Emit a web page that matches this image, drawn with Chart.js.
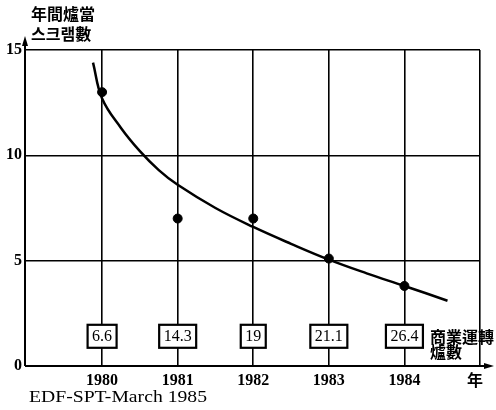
<!DOCTYPE html>
<html>
<head>
<meta charset="utf-8">
<script src="https://cdn.jsdelivr.net/npm/chart.js@4"></script>
<style>
  html, body { margin: 0; padding: 0; background: #fff; }
  #wrap { width: 496px; height: 410px; }
</style>
</head>
<body>
<div id="wrap"><canvas id="c" width="496" height="410"></canvas></div>
<script>
// scrams per reactor-year, EDF 1980-84
const years = [1980, 1981, 1982, 1983, 1984];
const scrams = [13.0, 7.0, 7.0, 5.1, 3.8];
const reactors = [6.6, 14.3, 19, 21.1, 26.4];
// trend curve
const curveX = [1979.88, 1980, 1980.25, 1980.5, 1980.75, 1981, 1981.5, 1982, 1982.5, 1983, 1983.5, 1984, 1984.57];
const curveY = [14.4, 12.7, 11.3, 10.2, 9.3, 8.6, 7.5, 6.6, 5.8, 5.05, 4.4, 3.8, 3.1];
const yTicks = [0, 5, 10, 15];
const boxLevel = 1.41;

const serif = "'Liberation Serif', 'DejaVu Serif', serif";
const cjk = "'Noto Sans CJK KR', 'Noto Sans CJK JP', sans-serif";

const decor = {
  id: 'decor',
  afterDraw(chart) {
    const { ctx, scales: { x, y } } = chart;
    const x0 = x.getPixelForValue(x.min), y0 = y.getPixelForValue(0);
    ctx.save();
    ctx.strokeStyle = '#000'; ctx.fillStyle = '#000'; ctx.lineWidth = 2;
    // axes with arrows
    ctx.beginPath();
    ctx.moveTo(x0, y0); ctx.lineTo(x0, 40);
    ctx.moveTo(x0, y0); ctx.lineTo(490, y0);
    ctx.stroke();
    ctx.beginPath(); ctx.moveTo(x0, 36); ctx.lineTo(x0 - 3, 46); ctx.lineTo(x0 + 3, 46); ctx.closePath(); ctx.fill();
    ctx.beginPath(); ctx.moveTo(494, y0); ctx.lineTo(484, y0 - 3); ctx.lineTo(484, y0 + 3); ctx.closePath(); ctx.fill();

    // reactor count boxes
    ctx.font = '16px ' + serif;
    ctx.textAlign = 'center'; ctx.textBaseline = 'middle';
    const by = y.getPixelForValue(boxLevel);
    years.forEach((yr, i) => {
      const t = String(reactors[i]);
      const cx = x.getPixelForValue(yr);
      const w = ctx.measureText(t).width + 9, h = 23;
      ctx.fillStyle = '#fff';
      ctx.fillRect(cx - w / 2, by - h / 2, w, h);
      ctx.lineWidth = 2.2;
      ctx.strokeRect(cx - w / 2, by - h / 2, w, h);
      ctx.fillStyle = '#000';
      ctx.fillText(t, cx, by + 1);
    });

    // titles
    ctx.textAlign = 'left';
    ctx.font = 'bold 16px ' + cjk;
    ctx.fillText('年間爐當', 31, 14);
    ctx.fillText('스크램數', 31, 34);
    ctx.fillText('商業運轉', 430, 337);
    ctx.fillText('爐數', 430, 352);
    ctx.fillText('年', 467, 380);

    // source line
    ctx.font = '17px ' + serif;
    const src = 'EDF-SPT-March 1985';
    const sw = ctx.measureText(src).width;
    ctx.translate(29, 398);
    ctx.scale(178 / sw, 1);
    ctx.fillText(src, 0, 0);
    ctx.restore();
  }
};

new Chart(document.getElementById('c'), {
  type: 'scatter',
  data: {
    datasets: [
      {
        data: curveX.map((v, i) => ({ x: v, y: curveY[i] })),
        showLine: true, borderColor: '#000', borderWidth: 2.5,
        pointRadius: 0, tension: 0.4
      },
      {
        data: years.map((v, i) => ({ x: v, y: scrams[i] })),
        backgroundColor: '#000', borderColor: '#000', pointRadius: 4.5
      }
    ]
  },
  options: {
    responsive: false, animation: false,
    layout: { padding: { top: 50, right: 16, bottom: 0, left: 0 } },
    plugins: { legend: { display: false }, tooltip: { enabled: false } },
    scales: {
      x: {
        type: 'linear', min: 1978.98, max: 1985,
        afterBuildTicks: s => { s.ticks = years.concat([1985]).map(v => ({ value: v })); },
        afterFit: s => { s.height = 44; },
        ticks: {
          color: '#000', padding: 5, maxRotation: 0, autoSkip: false,
          font: { family: serif, size: 16, weight: 'bold' },
          callback: v => (v === 1985 ? '' : String(v))
        },
        grid: { color: '#000', lineWidth: 1.6, drawTicks: false },
        border: { display: false }
      },
      y: {
        min: 0, max: 15,
        afterBuildTicks: s => { s.ticks = yTicks.map(v => ({ value: v })); },
        afterFit: s => { s.width = 25; },
        ticks: { color: '#000', padding: 3, font: { family: serif, size: 16, weight: 'bold' } },
        grid: { color: '#000', lineWidth: 1.6, drawTicks: false },
        border: { display: false }
      }
    }
  },
  plugins: [decor]
});
</script>
</body>
</html>
